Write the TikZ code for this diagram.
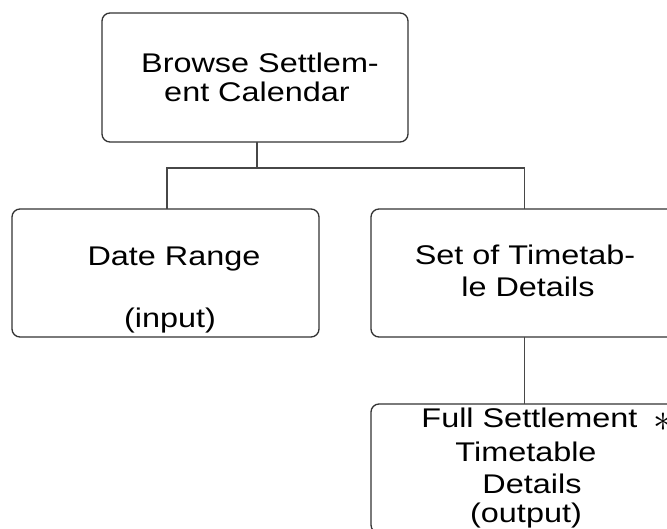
\documentclass[tikz,border=0pt]{standalone}
\usepackage{graphicx}
\usepackage{fontspec}
\setmainfont{Liberation Sans}[FakeStretch=1.2]
\begin{document}
\begin{tikzpicture}[x=1pt,y=-1pt,
  box/.style={draw=black!80,line width=1.3pt,rounded corners=8pt,minimum width=#1,minimum height=129pt,inner sep=0pt,outer sep=0pt},
  box/.default=307pt,
  lbl/.style={anchor=base,inner sep=0pt,font=\fontsize{27}{32}\selectfont},
  conn/.style={draw=black!72,line width=1.3pt}]
\useasboundingbox (0,0) rectangle (667,529);
\clip (0,0) rectangle (667,529);
\fill[white] (0,0) rectangle (667,529);
% boxes
\node[box=306pt] (top) at (255,77.5) {};
\node[box, minimum height=128pt] (left) at (165.5,273) {};
\node[box, minimum height=128pt] (right) at (524.5,273) {};
\node[box] (bottom) at (524.5,468.5) {};
% labels
\node[lbl] (t1) at (260,73) {Browse Settlem-};
\node[lbl] (t2) at (257,102) {ent Calendar};
\node[lbl] (l1) at (174,266) {Date Range};
\node[lbl] (l2) at (170,328) {(input)};
\node[lbl] (r1) at (525,265) {Set of Timetab-};
\node[lbl] (r2) at (528,297) {le Details};
\node[lbl] (b1) at (529.5,428) {Full Settlement};
\node[lbl,font=\fontsize{24}{28}\selectfont] (b1s) at (663,431.5) {\scalebox{1.6}{$\ast$}};
\node[lbl] (b2) at (526,461) {Timetable};
\node[lbl] (b3) at (532,493) {Details};
\node[lbl] (b4) at (526,522) {(output)};
% connectors
\coordinate (bus) at (257,168);
\draw[conn] ([xshift=2pt]top.south) -- ([xshift=2pt]top.south |- bus);
\draw[conn] ([xshift=1.5pt]left.north) -- ([xshift=1.5pt]left.north |- bus) -- (right.north |- bus) -- (right.north);
\draw[conn] (right.south) -- (bottom.north);
\end{tikzpicture}
\end{document}
